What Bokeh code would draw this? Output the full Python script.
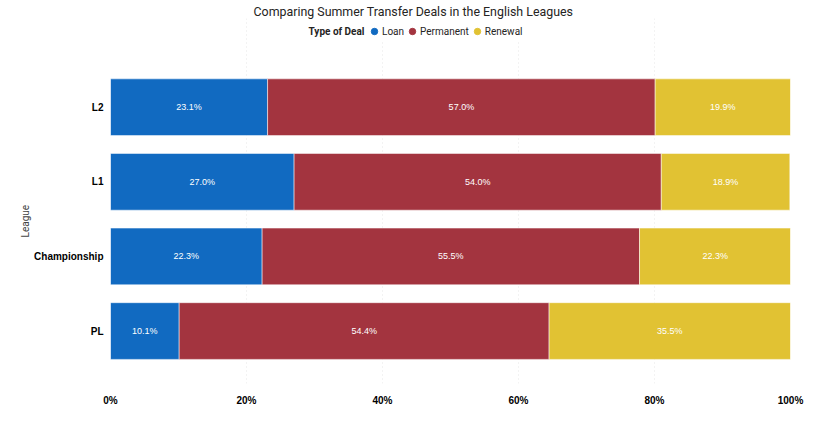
from bokeh.plotting import figure
from bokeh.models import (ColumnDataSource, Range1d, Label, Legend, LegendItem, FixedTicker,
                          SingleIntervalTicker, PrintfTickFormatter, Title)
from bokeh.core.properties import value
from bokeh.embed import file_html
from bokeh.resources import INLINE

# data, top to bottom
leagues = ["L2", "L1", "Championship", "PL"]
loan = [23.1, 27.0, 22.3, 10.1]
permanent = [57.0, 54.0, 55.5, 54.4]
renewal = [19.9, 18.9, 22.3, 35.5]
deal_types = ["Loan", "Permanent", "Renewal"]
colors = ["#116AC1", "#A3343F", "#E1C233"]

series = [loan, permanent, renewal]
ypos = [len(leagues) - 1 - i for i in range(len(leagues))]
src = ColumnDataSource(dict(ypos=ypos, league=leagues, Loan=loan, Permanent=permanent, Renewal=renewal))

p = figure( y_range=Range1d(-0.703, 4.189)
          , x_range=Range1d(0, 100)
          , width=815
          , height=430
          , min_border_left=110
          , min_border_right=25
          , min_border_top=18
          , min_border_bottom=47
          , toolbar_location=None
          , tools=""
          , output_backend="svg"
          , title="Comparing Summer Transfer Deals in the English Leagues"
          )
p.outline_line_color = None
p.title.align = "left"
p.title.offset = 143
p.title.standoff = 0
p.title.text_font = "Roboto"
p.title.text_font_style = "normal"
p.title.text_font_size = "12.4px"
p.title.text_color = "#252423"

p.hbar_stack(deal_types, y="ypos", height=0.76, color=colors, source=src,
             line_color="white", line_width=1, line_alpha=0.5)

# value labels in the middle of each segment
mids, ys, lbls = [], [], []
for i, yp in enumerate(ypos):
    left = 0
    for s in series:
        mids.append(left + s[i] / 2)
        ys.append(yp)
        lbls.append("%.1f%%" % s[i])
        left += s[i]
p.text(x=mids, y=ys, text=lbls, text_align="center", text_baseline="middle",
       text_color="white", text_font_size="9px", text_font=value("Liberation Sans"))

# axes
p.xaxis.ticker = SingleIntervalTicker(interval=20)
p.xaxis.formatter = PrintfTickFormatter(format="%d%%")
p.yaxis.ticker = FixedTicker(ticks=ypos)
p.yaxis.major_label_overrides = {yp: lg for yp, lg in zip(ypos, leagues)}
for ax in (p.xaxis, p.yaxis):
    ax.axis_line_color = None
    ax.major_tick_line_color = None
    ax.minor_tick_line_color = None
    ax.major_tick_out = 0
    ax.major_tick_in = 0
    ax.major_label_text_font = "Liberation Sans"
    ax.major_label_text_font_style = "bold"
    ax.major_label_text_font_size = "10px"
    ax.major_label_text_color = "black"
p.xaxis.major_label_standoff = 7
p.yaxis.major_label_standoff = 7

# y axis title, placed a little below the middle as in the original
p.add_layout(Title(text="League", align="left", offset=146, standoff=2,
                   text_font="Roboto", text_font_style="normal", text_font_size="10px",
                   text_color="#444444"), "left")

p.xgrid.ticker = p.xaxis.ticker
p.xgrid.grid_line_color = "#e6e6e6"
p.xgrid.grid_line_dash = "1 3"
p.ygrid.grid_line_color = None

# legend row at the top of the frame
p.add_layout(Label(x=254, y=352, x_units="screen", y_units="screen",
                   text="Type of Deal", text_align="right", text_baseline="middle",
                   text_font="Roboto", text_font_style="bold", text_font_size="10px",
                   text_color="#252423", background_fill_color="white"))

dots = [p.scatter(x=t, y="ypos", source=src, marker="circle", color=c, visible=False)
        for t, c in zip(deal_types, colors)]
legend = Legend(items=[LegendItem(label=t, renderers=[r]) for t, r in zip(deal_types, dots)],
                orientation="horizontal", location=(256, 343),
                border_line_color=None, background_fill_color="white",
                background_fill_alpha=1, inactive_fill_alpha=0,
                padding=0, margin=0, spacing=0,
                glyph_width=16, glyph_height=18, label_standoff=0, label_height=12,
                label_text_font="Roboto", label_text_font_size="10px",
                label_text_color="#252423")
p.add_layout(legend, "center")

open("out.html", "w").write(file_html(p, INLINE))
